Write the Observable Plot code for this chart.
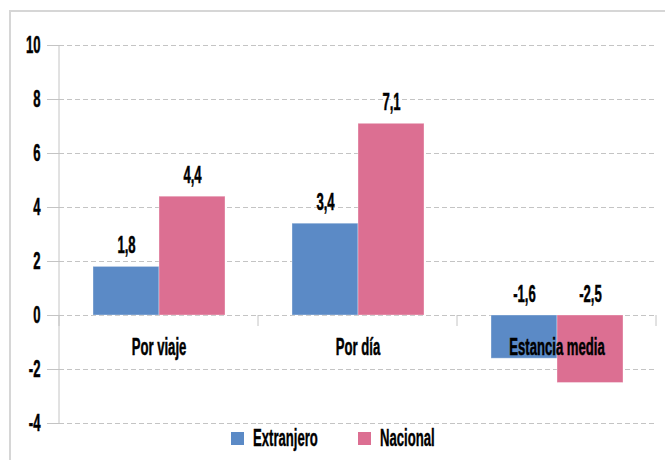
<!DOCTYPE html>
<html><head><meta charset="utf-8">
<script src="https://cdn.jsdelivr.net/npm/d3@7"></script>
<script src="https://cdn.jsdelivr.net/npm/@observablehq/plot@0.6"></script>
<style>
body{margin:0;background:#fff;}
#wrap{position:relative;width:665px;height:460px;overflow:hidden;font-family:"Liberation Sans",Arial,sans-serif;font-weight:bold;}
#box{position:absolute;left:9px;top:10px;width:700px;height:500px;border-left:2px solid #d6d6d6;border-top:2px solid #d6d6d6;}
#chart{position:absolute;left:0;top:0;}
#legend{position:absolute;top:427px;left:0;width:665px;display:flex;justify-content:center;gap:40px;font-size:23px;line-height:22px;color:#000;-webkit-text-stroke:0.4px #000;}
#legend .item{display:flex;align-items:center;gap:9px;}
#legend .sw{width:13px;height:13px;display:inline-block;}
#legend .lab{display:inline-block;white-space:nowrap;}
#legend .lab span{display:inline-block;transform-origin:0 50%;}
</style></head>
<body>
<div id="wrap"><div id="box"></div><div id="chart"></div><div id="legend"></div></div>
<script>
const categories = ["Por viaje", "Por día", "Estancia media"];
const series = ["Extranjero", "Nacional"];
const extranjero = [1.8, 3.4, -1.6];
const nacional = [4.4, 7.1, -2.5];
const yTicks = [-4, -2, 0, 2, 4, 6, 8, 10];
const colors = ["#5b8ac6", "#dc6f92"];

const data = categories.flatMap((c, i) => [
  {category: c, series: series[0], value: extranjero[i]},
  {category: c, series: series[1], value: nacional[i]}
]);
const fmt = v => v.toFixed(1).replace(".", ",");
const FONT = '"Liberation Sans",Arial,sans-serif';
const SQUEEZE = 0.57;

const chart = Plot.plot({
  width: 665, height: 440,
  marginTop: 45, marginBottom: 17, marginLeft: 59, marginRight: 9,
  style: {fontFamily: FONT, fontWeight: "bold", fontSize: "23px", color: "black", background: "transparent", overflow: "visible"},
  fx: {domain: categories, paddingInner: 0, paddingOuter: 0, axis: null, label: null},
  x: {domain: series, paddingInner: 0, paddingOuter: 0.5, axis: null},
  y: {domain: [-4, 10], axis: null},
  color: {domain: series, range: colors},
  marks: [
    Plot.ruleY(yTicks, {stroke: "#c4c4c4", strokeDasharray: "5,3"}),
    Plot.barY(data, {fx: "category", x: "series", y: "value", fill: "series", stroke: "white", strokeOpacity: 0.35}),
    Plot.text(data, {fx: "category", x: "series", y: d => Math.max(0, d.value), text: d => fmt(d.value), dy: -21, fontSize: 23, lineAnchor: "middle", fill: "black"}),
    Plot.text(categories, {fx: d => d, y: () => 0, text: d => d, dy: 32, fontSize: 23, lineAnchor: "middle", fill: "black"}),
    Plot.axisY({ticks: yTicks, tickSize: 12, tickPadding: 7, stroke: "#c4c4c4", fill: "black", fontSize: 23, tickFormat: d => String(d), label: null})
  ]
});

// axis line and category boundary ticks from the plot's own scales
const fxS = chart.scale("fx"), yS = chart.scale("y");
const fxb = d3.scaleBand().domain(fxS.domain).range(fxS.range).paddingInner(0).paddingOuter(0);
const yl = d3.scaleLinear().domain(yS.domain).range(yS.range);
const g = d3.select(chart).append("g").attr("stroke", "#c4c4c4");
const x0 = fxb.range()[0];
g.append("line").attr("x1", x0).attr("x2", x0).attr("y1", yl(10)).attr("y2", yl(-4));
const bounds = categories.map(c => fxb(c)).concat([fxb(categories[categories.length - 1]) + fxb.bandwidth()]);
g.selectAll("line.b").data(bounds).join("line").attr("class", "b")
  .attr("x1", d => d).attr("x2", d => d).attr("y1", yl(0)).attr("y2", yl(0) + 11);

document.getElementById("chart").appendChild(chart);

// condensed look: horizontally compress each text, keeping it real text
d3.select(chart).selectAll("text").each(function() {
  const w = this.getComputedTextLength();
  if (w > 0) {
    this.setAttribute("textLength", (w * SQUEEZE).toFixed(2));
    this.setAttribute("lengthAdjust", "spacingAndGlyphs");
    this.style.stroke = "#000";
    this.style.strokeWidth = "0.5px";
  }
});

const legend = d3.select("#legend");
series.forEach((s, i) => {
  const it = legend.append("div").attr("class", "item");
  it.append("span").attr("class", "sw").style("background", colors[i]);
  const lab = it.append("span").attr("class", "lab");
  lab.append("span").text(s);
});
legend.selectAll(".lab").each(function() {
  const inner = this.firstChild;
  const w = inner.getBoundingClientRect().width;
  inner.style.transform = `scaleX(${SQUEEZE})`;
  this.style.width = (w * SQUEEZE) + "px";
});
</script>
</body></html>
